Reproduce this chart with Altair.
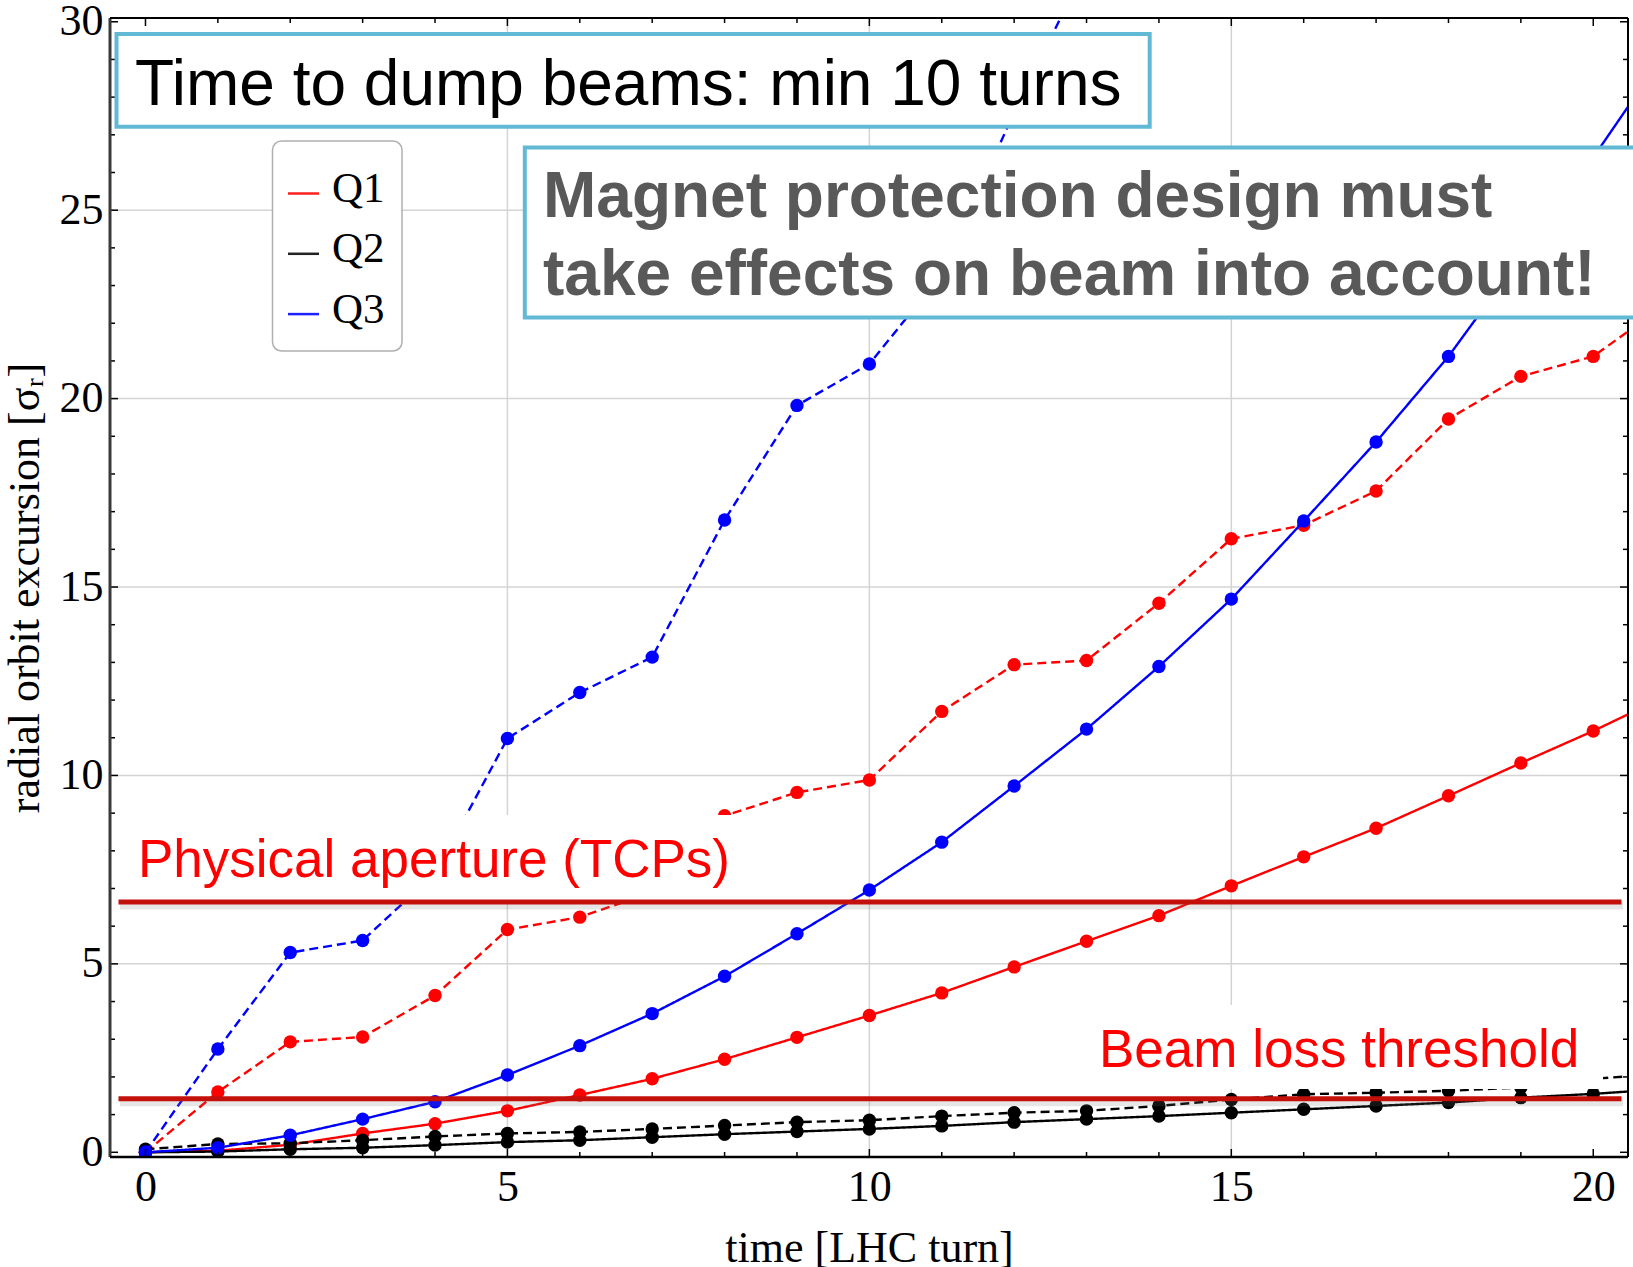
import altair as alt
import pandas as pd

# ---------------- data ----------------
turns = list(range(0, 22))

q1_solid = [0.0, 0.04, 0.2, 0.5, 0.76, 1.1, 1.52, 1.95, 2.47, 3.05, 3.63, 4.23, 4.92, 5.6, 6.28,
            7.07, 7.84, 8.6, 9.46, 10.33, 11.18, 12.1]
q1_dashed = [0.0, 1.6, 2.93, 3.06, 4.16, 5.91, 6.24, 6.9, 8.93, 9.55, 9.88, 11.7, 12.94, 13.05,
             14.57, 16.28, 16.64, 17.55, 19.46, 20.59, 21.12, 22.5]
q2_solid = [0.0, 0.02, 0.08, 0.12, 0.19, 0.27, 0.32, 0.4, 0.48, 0.55, 0.62, 0.7, 0.8, 0.88, 0.96,
            1.05, 1.14, 1.23, 1.32, 1.45, 1.55, 1.68]
q2_dashed = [0.08, 0.22, 0.24, 0.32, 0.42, 0.5, 0.54, 0.62, 0.71, 0.8, 0.85, 0.96, 1.05, 1.1, 1.23,
             1.4, 1.54, 1.58, 1.63, 1.72, 1.95, 2.09]
q3_solid = [0.0, 0.12, 0.45, 0.88, 1.34, 2.05, 2.83, 3.68, 4.67, 5.8, 6.96, 8.23, 9.72, 11.23,
            12.89, 14.68, 16.75, 18.85, 21.12, 23.75, 26.4, 29.2]
q3_dashed = [0.0, 2.74, 5.3, 5.62, 7.4, 10.98, 12.2, 13.14, 16.78, 19.82, 20.92, 23.3, 27.6, 31.5]

quads = ["Q1", "Q2", "Q3"]
quad_colors = ["#ff0000", "#000000", "#0000ff"]
legend_colors = ["#ff2020", "#222222", "#2020ff"]
kinds = ["solid", "dashed"]

x_ticks = [0, 5, 10, 15, 20]
y_ticks = [0, 5, 10, 15, 20, 25, 30]
x_grid = [5, 10, 15]
y_grid = [5, 10, 15, 20, 25]
x_minor = list(range(0, 21))
y_minor = list(range(0, 31))

thresholds = [6.64, 1.42]
threshold_labels = ["Physical aperture (TCPs)", "Beam loss threshold"]
note_dump = "Time to dump beams: min 10 turns"
note_magnet = "Magnet protection design must\ntake effects on beam into account!"
x_title = "time [LHC turn]"
y_title = "radial orbit excursion [σᵣ]"

# ---------------- tables ----------------
rows = []
for quad, kind, vals in [("Q1", "solid", q1_solid), ("Q1", "dashed", q1_dashed),
                         ("Q2", "solid", q2_solid), ("Q2", "dashed", q2_dashed),
                         ("Q3", "solid", q3_solid), ("Q3", "dashed", q3_dashed)]:
    for t, v in zip(turns, vals):
        rows.append({"x": t, "y": v, "quad": quad, "kind": kind, "series": quad + kind})
df = pd.DataFrame(rows)

W, H = 1518, 1139
xs = alt.Scale(domain=[-0.49, 20.48], nice=False, zero=False)
ys = alt.Scale(domain=[-0.125, 30.1], nice=False, zero=False)

SERIF = "Liberation Serif"
SANS = "Liberation Sans"

x_axis = alt.Axis(values=x_ticks, format="d", title=x_title, grid=False, ticks=False, domain=False,
                  labelFont=SERIF, labelFontSize=44, labelColor="black", labelPadding=8,
                  titleFont=SERIF, titleFontSize=44, titleFontWeight="normal", titleColor="black",
                  titlePadding=17)
y_axis = alt.Axis(values=y_ticks, format="d", title=y_title, grid=False, ticks=False, domain=False,
                  labelFont=SERIF, labelFontSize=44, labelColor="black", labelPadding=7,
                  titleFont=SERIF, titleFontSize=44, titleFontWeight="normal", titleColor="black",
                  titlePadding=12)


def X(field):
    return alt.X(field, type="quantitative", scale=xs, axis=x_axis)


def Y(field):
    return alt.Y(field, type="quantitative", scale=ys, axis=y_axis)


color_enc = alt.Color("quad:N", scale=alt.Scale(domain=quads, range=quad_colors), legend=None)
dash_enc = alt.StrokeDash("kind:N", scale=alt.Scale(domain=kinds, range=[[1, 0], [9, 5]]), legend=None)

# grid
gx = alt.Chart(pd.DataFrame({"x": x_grid})).mark_rule(color="#d4d4d4", strokeWidth=1.5).encode(x=X("x"))
gy = alt.Chart(pd.DataFrame({"y": y_grid})).mark_rule(color="#d4d4d4", strokeWidth=1.5).encode(y=Y("y"))

layers = [gx, gy]
for quad, col in zip(quads, quad_colors):
    sub = df[df["quad"] == quad]
    line = alt.Chart(sub).mark_line(strokeWidth=2.4, clip=True).encode(
        x=X("x"), y=Y("y"), color=color_enc, strokeDash=dash_enc, detail="series:N")
    pts = alt.Chart(sub).mark_circle(size=180, opacity=1, color=col, clip=True).encode(
        x=X("x"), y=Y("y"))
    layers += [line, pts]

one = pd.DataFrame({"a": [0]})

# white backgrounds behind red labels
bg_phys = alt.Chart(one).mark_rect(fill="white").encode(
    x=alt.value(5), x2=alt.value(625), y=alt.value(797), y2=alt.value(882))
bg_loss = alt.Chart(one).mark_rect(fill="white").encode(
    x=alt.value(975), x2=alt.value(1493), y=alt.value(987), y2=alt.value(1071))

thr = pd.DataFrame({"y": thresholds, "label": threshold_labels})
thr_shadow = alt.Chart(thr).mark_rule(color="#777777", opacity=0.18, strokeWidth=7, yOffset=4).encode(
    y=Y("y"), x=alt.value(10), x2=alt.value(1513))
thr_rule = alt.Chart(thr).mark_rule(color="#c4100a", strokeWidth=5).encode(
    y=Y("y"), x=alt.value(8.5), x2=alt.value(1511.5))

txt_phys = alt.Chart(thr.iloc[[0]]).mark_text(align="left", baseline="alphabetic", font=SANS,
                                              fontSize=53, color="#ff0000").encode(
    x=alt.value(28), y=alt.value(859), text="label:N")
txt_loss = alt.Chart(thr.iloc[[1]]).mark_text(align="left", baseline="alphabetic", font=SANS,
                                              fontSize=53, color="#ff0000").encode(
    x=alt.value(989), y=alt.value(1049), text="label:N")


# inward ticks on all four sides
def xtick_layers(vals, length, width):
    base = alt.Chart(pd.DataFrame({"x": vals})).mark_rule(color="black", strokeWidth=width)
    return [base.encode(x=X("x"), y=alt.value(H), y2=alt.value(H - length)),
            base.encode(x=X("x"), y=alt.value(0), y2=alt.value(length))]


def ytick_layers(vals, length, width):
    base = alt.Chart(pd.DataFrame({"y": vals})).mark_rule(color="black", strokeWidth=width)
    return [base.encode(y=Y("y"), x=alt.value(0), x2=alt.value(length)),
            base.encode(y=Y("y"), x=alt.value(W), x2=alt.value(W - length))]


ticks = (xtick_layers([v for v in x_minor if v % 5], 5, 1.5) + xtick_layers(x_ticks, 8, 1.5)
         + ytick_layers([v for v in y_minor if v % 5], 5, 1.5) + ytick_layers(y_ticks, 8, 1.5))

frame = [
    alt.Chart(one).mark_rule(color="#3a3a3a", strokeWidth=3).encode(
        x=alt.value(0), y=alt.value(0), y2=alt.value(H)),
    alt.Chart(one).mark_rule(color="black", strokeWidth=2).encode(
        x=alt.value(W), y=alt.value(0), y2=alt.value(H)),
    alt.Chart(one).mark_rule(color="black", strokeWidth=2).encode(
        y=alt.value(0), x=alt.value(0), x2=alt.value(W)),
    alt.Chart(one).mark_rule(color="black", strokeWidth=2.5).encode(
        y=alt.value(H), x=alt.value(0), x2=alt.value(W)),
]

# legend (box, line keys, labels)
leg = [alt.Chart(one).mark_rect(fill="white", stroke="#b0b0b0", strokeWidth=1.5, cornerRadius=9).encode(
    x=alt.value(162.5), x2=alt.value(292), y=alt.value(123), y2=alt.value(333))]
for i, (quad, col) in enumerate(zip(quads, legend_colors)):
    ly = 175.5 + 60.3 * i
    leg.append(alt.Chart(one).mark_rule(color=col, strokeWidth=2.5).encode(
        x=alt.value(178), x2=alt.value(209), y=alt.value(ly)))
    leg.append(alt.Chart(pd.DataFrame({"q": [quad]})).mark_text(
        align="left", baseline="alphabetic", font=SERIF, fontSize=43, color="black").encode(
        x=alt.value(222), y=alt.value(ly + 8.5), text="q:N"))

BOX = "#62b9d6"
box1 = alt.Chart(one).mark_rect(fill="white", stroke=BOX, strokeWidth=4).encode(
    x=alt.value(6.5), x2=alt.value(1039.7), y=alt.value(16), y2=alt.value(108.7))
txt1 = alt.Chart(pd.DataFrame({"t": [note_dump]})).mark_text(
    align="left", baseline="alphabetic", font=SANS, fontSize=64, color="black").encode(
    x=alt.value(25), y=alt.value(86.5), text="t:N")
box2 = alt.Chart(one).mark_rect(fill="white", stroke=BOX, strokeWidth=4).encode(
    x=alt.value(414.8), x2=alt.value(1535), y=alt.value(129.5), y2=alt.value(299.4))
txt2 = alt.Chart(pd.DataFrame({"t": [note_magnet]})).mark_text(
    align="left", baseline="alphabetic", font=SANS, fontSize=64, fontWeight="bold",
    color="#595959", lineBreak="\n", lineHeight=78).encode(
    x=alt.value(433), y=alt.value(198.5), text="t:N")

layers += [bg_phys, bg_loss, thr_shadow, thr_rule, txt_phys, txt_loss]
layers += ticks + frame + leg + [box1, txt1, box2, txt2]

chart = alt.layer(*layers).properties(
    width=W, height=H,
    autosize=alt.AutoSizeParams(type="none"),
    padding={"left": 110, "top": 18, "right": 5, "bottom": 110},
    background="white",
).configure_view(stroke=None)

chart.save("out.html", embed_options={"renderer": "svg", "actions": False})
